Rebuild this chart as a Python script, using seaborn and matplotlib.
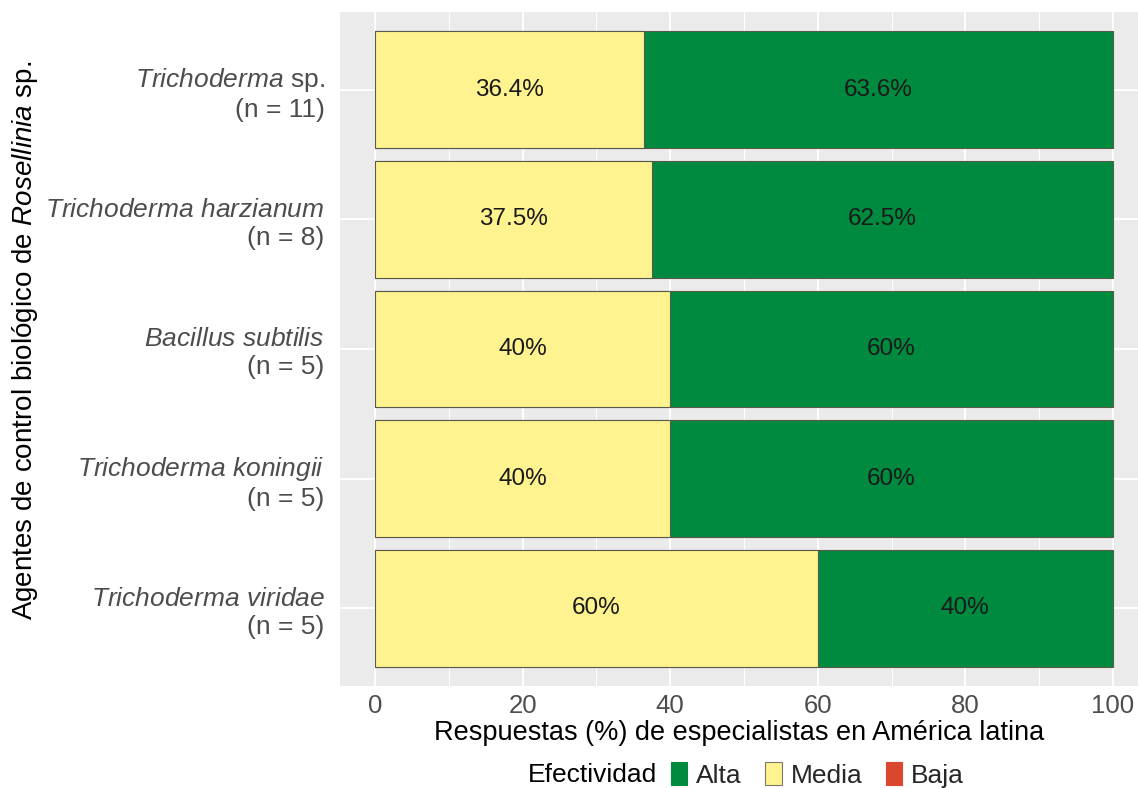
import matplotlib
matplotlib.use("Agg")
import matplotlib.pyplot as plt
from matplotlib.patches import Patch
from matplotlib.ticker import MultipleLocator
import seaborn as sns
import pandas as pd

species = ["Trichoderma", "Trichoderma harzianum", "Bacillus subtilis",
           "Trichoderma koningii", "Trichoderma viridae"]
suffix = [" sp.", "", "", "", ""]
n_resp = [11, 8, 5, 5, 5]
media = [36.4, 37.5, 40, 40, 60]
alta = [63.6, 62.5, 60, 60, 40]
baja = [0, 0, 0, 0, 0]
levels = ["Alta", "Media", "Baja"]
colors = {"Alta": "#008A3F", "Media": "#FFF38F", "Baja": "#D9472E"}

df = pd.DataFrame({"agente": species, "media": media, "alta": alta, "baja": baja})
df["total"] = df["media"] + df["alta"] + df["baja"]

sns.set_style("darkgrid", {"axes.facecolor": "#EBEBEB", "grid.color": "white"})
plt.rcParams["font.family"] = ["Liberation Sans", "DejaVu Sans"]
plt.rcParams["mathtext.fontset"] = "custom"
plt.rcParams["mathtext.rm"] = "Liberation Sans"
plt.rcParams["mathtext.it"] = "Liberation Sans:italic"

fig = plt.figure(figsize=(11.38, 7.88), dpi=100)
ax = fig.add_axes([340 / 1138, 1 - 686 / 788, 798 / 1138, 674 / 788])

edge = "#5a5a4a"
# stacked: full bar (alta on top of media), then media over it
sns.barplot(data=df, x="total", y="agente", color=colors["Alta"], width=0.9,
            edgecolor=edge, linewidth=0.8, saturation=1, ax=ax, zorder=2)
sns.barplot(data=df, x="media", y="agente", color=colors["Media"], width=0.9,
            edgecolor=edge, linewidth=0.8, saturation=1, ax=ax, zorder=3)

for i, (m, a) in enumerate(zip(media, alta)):
    ax.text(m / 2, i, f"{m:g}%", ha="center", va="center", fontsize=17.5,
            color="#1a1a1a", zorder=5)
    ax.text(m + a / 2, i, f"{a:g}%", ha="center", va="center", fontsize=17.5,
            color="#1a1a1a", zorder=5)

labels = []
for sp, sf, n in zip(species, suffix, n_resp):
    name = sp.replace(" ", r"\ ")
    labels.append(f"$\\mathit{{{name}}}${sf}\n(n = {n})")
ax.set_yticks(range(len(species)))
ax.set_yticklabels(labels, fontsize=19, color="#4D4D4D", linespacing=1.2)

ax.set_xlim(-4.74, 103.4)
ax.set_ylim(4.6, -0.6)
ax.xaxis.set_major_locator(MultipleLocator(20))
ax.xaxis.set_minor_locator(MultipleLocator(10))
ax.grid(which="major", color="white", linewidth=1.4, zorder=0)
ax.grid(which="minor", axis="x", color="white", linewidth=0.7, zorder=0)
ax.set_axisbelow(True)
ax.tick_params(axis="x", labelsize=18.5, labelcolor="#4D4D4D", length=4,
               color="#4D4D4D", width=0.8, pad=2)
ax.tick_params(axis="x", which="minor", length=0)
ax.tick_params(axis="y", length=4, color="#4D4D4D", width=0.8, pad=7)
for s in ax.spines.values():
    s.set_visible(False)

ax.set_xlabel("Respuestas (%) de especialistas en América latina",
              fontsize=19.5, color="black", labelpad=1)
ax.set_ylabel("")
fig.text(25 / 1138, 1 - 340 / 788,
         r"Agentes de control biológico de $\mathit{Rosellinia}$ sp.",
         rotation=90, ha="center", va="center", fontsize=20, color="black")

handles = [Patch(facecolor=colors[l], edgecolor="#7a7a6a" if l == "Media" else colors[l],
                 linewidth=0.8) for l in levels]
fig.text(657 / 1138, 1 - 775 / 788, "Efectividad", ha="right", va="center",
         fontsize=19, color="black")
fig.legend(handles, levels, loc="center left", bbox_to_anchor=(671 / 1138, 1 - 775 / 788),
           ncol=3, frameon=False, fontsize=19, handlelength=0.62, handleheight=0.95,
           handletextpad=0.33, columnspacing=0.9, borderpad=0, borderaxespad=0)

fig.savefig("out.png", dpi=100)
